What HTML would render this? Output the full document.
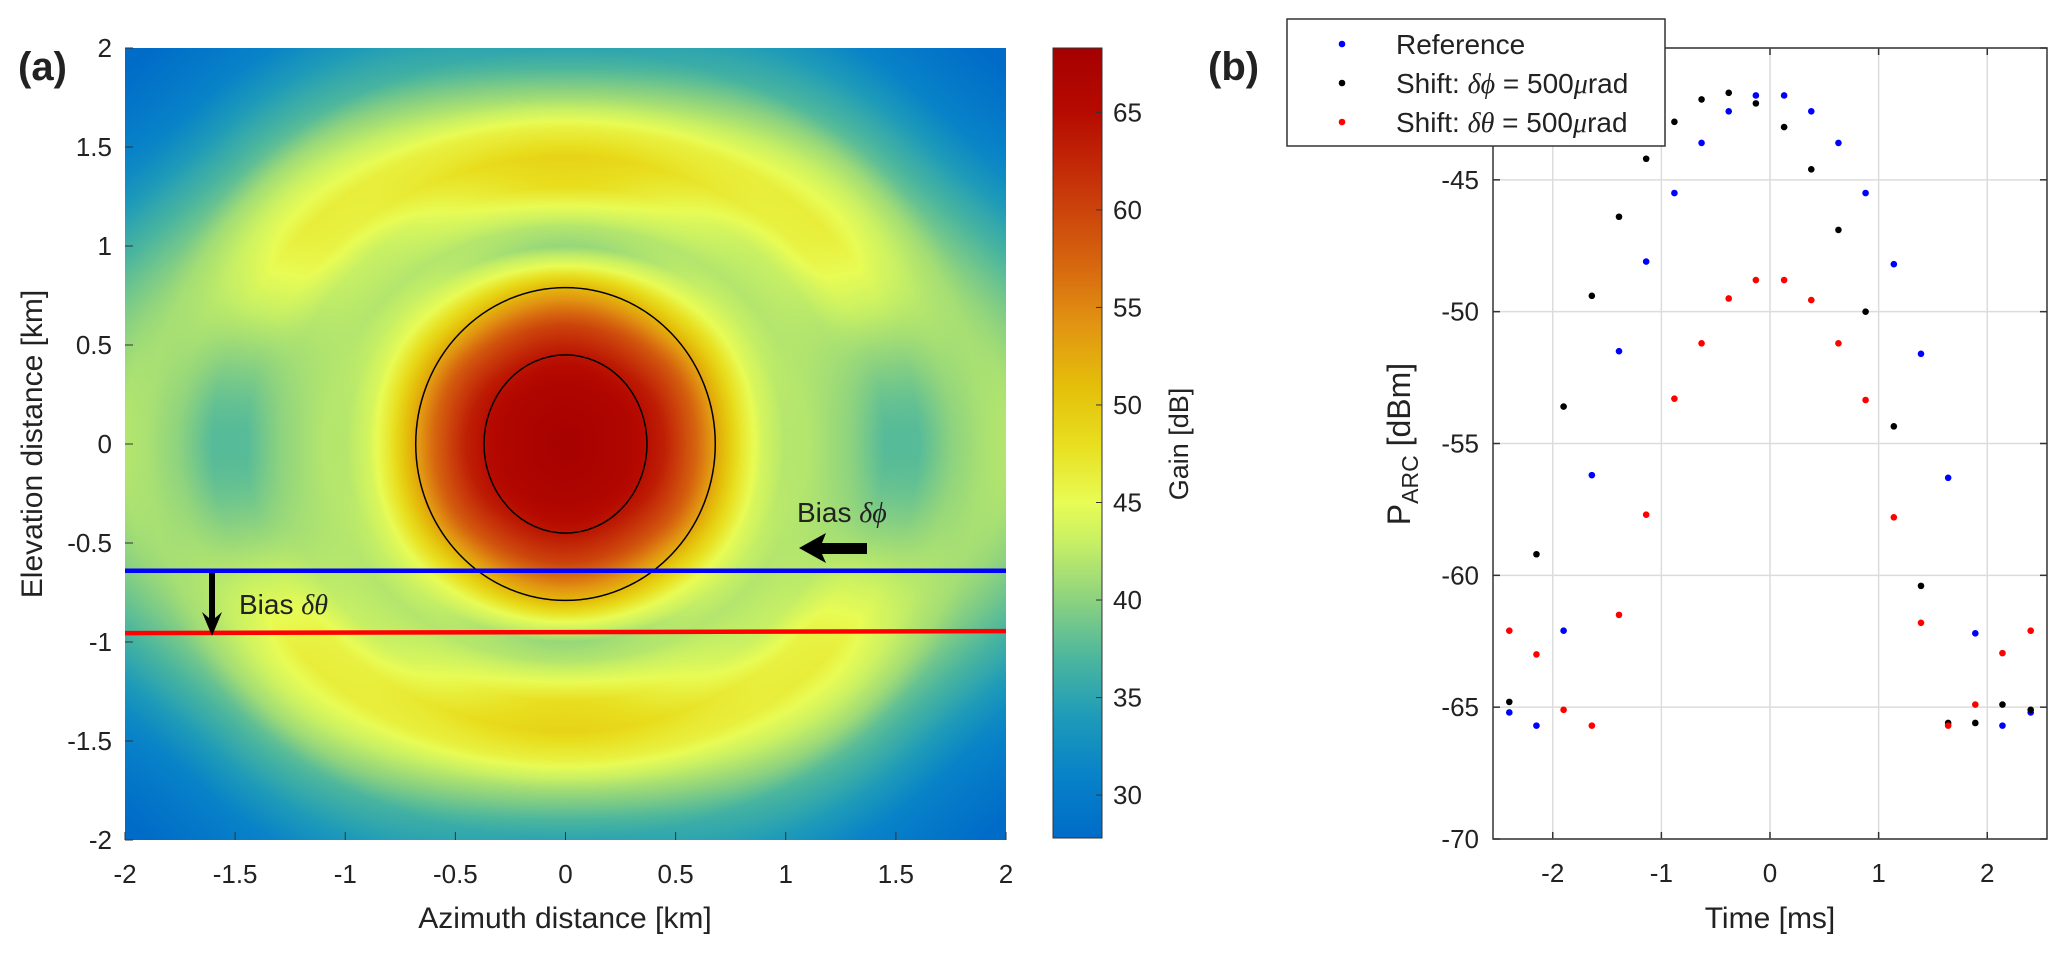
<!DOCTYPE html>
<html><head><meta charset="utf-8"><style>
html,body{margin:0;padding:0;background:#fff;width:2067px;height:955px;overflow:hidden}
#wrap{position:relative;width:2067px;height:955px}
canvas{position:absolute;left:125px;top:48px}
svg{position:absolute;left:0;top:0}
text{font-family:"Liberation Sans",Arial,sans-serif;fill:#222}
</style></head><body>
<div id="wrap">
<canvas id="heat" width="881" height="792"></canvas>
<svg id="svg" width="2067" height="955"></svg>
</div>
<script>
// ---------- Panel (a) data: gain profiles (km -> dB) ----------
const profileR = [0, 0.3, 0.45, 0.6, 0.8, 0.9, 1.0, 1.1, 1.3, 1.45, 1.6, 1.75, 1.9, 2.0, 2.4, 2.83];
const gainVertical = [68, 66.5, 64, 60, 51, 45, 40.5, 42, 48, 49, 46, 41, 37, 35, 32, 29];
const gainHorizontal = [68, 66, 63, 57, 47, 43.5, 42, 42, 40, 37.5, 37.5, 40, 41.5, 42, 39, 34];
const gainDiagonal = [68, 66.3, 63.5, 58.5, 49, 45, 43, 42, 43, 46, 46.5, 44, 41, 38, 31, 27];
const colorbarTicks = [30, 35, 40, 45, 50, 55, 60, 65];
const azTicks = [-2, -1.5, -1, -0.5, 0, 0.5, 1, 1.5, 2];
const elTicks = [-2, -1.5, -1, -0.5, 0, 0.5, 1, 1.5, 2];
const contourRx = [0.68, 0.37];
const contourRy = [0.79, 0.45];
const biasPhiElev = [-0.64, -0.64];
const biasThetaElev = [-0.955, -0.945];

// ---------- Panel (b) data ----------
const timeMs = [-2.40,-2.15,-1.90,-1.64,-1.39,-1.14,-0.88,-0.63,-0.38,-0.13,0.13,0.38,0.63,0.88,1.14,1.39,1.64,1.89,2.14,2.40];
const refPower = [-65.2,-65.7,-62.1,-56.2,-51.5,-48.1,-45.5,-43.6,-42.4,-41.8,-41.8,-42.4,-43.6,-45.5,-48.2,-51.6,-56.3,-62.2,-65.7,-65.2];
const phiPower = [-64.8,-59.2,-53.6,-49.4,-46.4,-44.2,-42.8,-41.95,-41.7,-42.1,-43.0,-44.6,-46.9,-50.0,-54.35,-60.4,-65.6,-65.6,-64.9,-65.1];
const thetaPower = [-62.1,-63.0,-65.1,-65.7,-61.5,-57.7,-53.3,-51.2,-49.5,-48.8,-48.8,-49.56,-51.2,-53.35,-57.8,-61.8,-65.7,-64.9,-62.95,-62.1];
const timeTicks = [-2, -1, 0, 1, 2];
const powerTicks = [-70, -65, -60, -55, -50, -45, -40];

const NS = "http://www.w3.org/2000/svg";
const svg = document.getElementById('svg');
function mk(tag, attrs, parent){const e=document.createElementNS(NS,tag);for(const k in attrs)e.setAttribute(k,attrs[k]);(parent||svg).appendChild(e);return e;}

const A = {x0:125, x1:1006, y0:48, y1:840};
const ax = v => A.x0 + (v + 2) / 4 * (A.x1 - A.x0);
const ay = v => A.y1 - (v + 2) / 4 * (A.y1 - A.y0);
const CB = {x0:1053, x1:1102, y0:48, y1:838, lo:27.8, hi:68.3};
const cy = v => CB.y1 - (v - CB.lo) / (CB.hi - CB.lo) * (CB.y1 - CB.y0);
const B = {x0:1493, x1:2047, y0:48, y1:839, tlo:-2.55, thi:2.55, plo:-70, phi:-40};
const bx = v => B.x0 + (v - B.tlo) / (B.thi - B.tlo) * (B.x1 - B.x0);
const by = v => B.y1 - (v - B.plo) / (B.phi - B.plo) * (B.y1 - B.y0);

const cmStops = [[27.8,[0,108,200]],[31,[8,130,200]],[34,[30,155,185]],[37,[75,182,158]],[40,[140,210,128]],[43,[200,240,100]],[45,[232,252,85]],[48,[232,222,30]],[51,[228,190,10]],[54,[226,150,18]],[57,[215,105,15]],[61,[200,55,10]],[65,[182,10,0]],[68.3,[165,0,0]]];
function cmap(v){
  if(v<=cmStops[0][0])return cmStops[0][1];
  for(let i=1;i<cmStops.length;i++){if(v<=cmStops[i][0]){const a=cmStops[i-1],b=cmStops[i];const t=(v-a[0])/(b[0]-a[0]);return [0,1,2].map(k=>a[1][k]+(b[1][k]-a[1][k])*t);}}
  return cmStops[cmStops.length-1][1];
}
function interp(arr, r){
  if(r>=profileR[profileR.length-1])return arr[arr.length-1];
  for(let i=1;i<profileR.length;i++){if(r<=profileR[i]){const t=(r-profileR[i-1])/(profileR[i]-profileR[i-1]);return arr[i-1]+(arr[i]-arr[i-1])*t;}}
}
function gainAt(x,y){
  const r=Math.hypot(x,y);const th=Math.atan2(Math.abs(y),Math.abs(x));
  const h=interp(gainHorizontal,r),d=interp(gainDiagonal,r),v=interp(gainVertical,r);
  if(th<=Math.PI/4){const t=th/(Math.PI/4);const s=t*t*(3-2*t);return h+(d-h)*s;}
  const t=(th-Math.PI/4)/(Math.PI/4);const s=t*t*(3-2*t);return d+(v-d)*s;
}
(function(){
  const c=document.getElementById('heat');const ctx=c.getContext('2d');
  const W=c.width,H=c.height;const img=ctx.createImageData(W,H);
  for(let j=0;j<H;j++){const y=2-4*(j+0.5)/H;
    for(let i=0;i<W;i++){const x=-2+4*(i+0.5)/W;const col=cmap(gainAt(x,y));const p=(j*W+i)*4;
      img.data[p]=col[0];img.data[p+1]=col[1];img.data[p+2]=col[2];img.data[p+3]=255;}}
  ctx.putImageData(img,0,0);
})();

const gA = mk('g',{});


contourRx.forEach((rx,i)=>{
  const e=mk('ellipse',{cx:ax(0),cy:ay(0),rx:ax(rx)-ax(0),ry:ay(0)-ay(contourRy[i]),fill:'none',stroke:'#000','stroke-width':1.5},gA);
  
  
});
let ln=mk('line',{x1:A.x0,x2:A.x1,y1:ay(biasPhiElev[0]),y2:ay(biasPhiElev[1]),stroke:'#0000ff','stroke-width':4.5},gA);


ln=mk('line',{x1:A.x0,x2:A.x1,y1:ay(biasThetaElev[0]),y2:ay(biasThetaElev[1]),stroke:'#ff0000','stroke-width':4.5},gA);


let ar=mk('path',{d:'M209 573 L209 618 L202 612 L212 636 L222 612 L215 618 L215 573 Z',fill:'#000'},gA);


ar=mk('path',{d:'M867 543 L822 543 L826 533 L799 548 L826 563 L822 554 L867 554 Z',fill:'#000'},gA);


let t=mk('text',{x:239,y:614,'font-size':28},gA);t.innerHTML='Bias <tspan font-family="Liberation Serif" font-style="italic">δθ</tspan>';


t=mk('text',{x:797,y:522,'font-size':28},gA);t.innerHTML='Bias <tspan font-family="Liberation Serif" font-style="italic">δϕ</tspan>';


azTicks.forEach(v=>{
  mk('line',{x1:ax(v),x2:ax(v),y1:A.y1,y2:A.y1-8,stroke:'#333','stroke-width':1},gA);
  const tt=mk('text',{x:ax(v),y:883,'font-size':26,'text-anchor':'middle'},gA);tt.textContent=v;
  
  
});
elTicks.forEach(v=>{
  mk('line',{x1:A.x0,x2:A.x0+8,y1:ay(v),y2:ay(v),stroke:'#333','stroke-width':1},gA);
  const tt=mk('text',{x:112,y:ay(v)+9,'font-size':26,'text-anchor':'end'},gA);tt.textContent=v;
  
  
});
t=mk('text',{x:565,y:928,'font-size':30,'text-anchor':'middle'},gA);t.textContent='Azimuth distance [km]';


t=mk('text',{x:0,y:0,'font-size':30,'text-anchor':'middle',transform:'translate(42,444) rotate(-90)'},gA);t.textContent='Elevation distance [km]';


t=mk('text',{x:18,y:80,'font-size':40,'font-weight':'bold'},gA);t.textContent='(a)';



const gC=mk('g',{});


const defs=mk('defs',{});const lg=mk('linearGradient',{id:'cbg',x1:0,y1:1,x2:0,y2:0},defs);
cmStops.forEach(s=>{mk('stop',{offset:(s[0]-CB.lo)/(CB.hi-CB.lo),'stop-color':'rgb('+s[1].map(Math.round).join(',')+')'},lg);});
mk('rect',{x:CB.x0,y:CB.y0,width:CB.x1-CB.x0,height:CB.y1-CB.y0,fill:'url(#cbg)',stroke:'#333','stroke-width':1},gC);
colorbarTicks.forEach(v=>{
  mk('line',{x1:CB.x1-6,x2:CB.x1,y1:cy(v),y2:cy(v),stroke:'#333'},gC);
  const tt=mk('text',{x:1113,y:cy(v)+9,'font-size':26},gC);tt.textContent=v;
  
  
});
t=mk('text',{x:0,y:0,'font-size':27,'text-anchor':'middle',transform:'translate(1188,444) rotate(-90)'},gC);t.textContent='Gain [dB]';



const gB=mk('g',{});


timeTicks.forEach(v=>{
  mk('line',{x1:bx(v),x2:bx(v),y1:B.y0,y2:B.y1,stroke:'#dcdcdc','stroke-width':1.5},gB);
  mk('line',{x1:bx(v),x2:bx(v),y1:B.y1,y2:B.y1-7,stroke:'#333','stroke-width':1.5},gB);
  mk('line',{x1:bx(v),x2:bx(v),y1:B.y0,y2:B.y0+7,stroke:'#333','stroke-width':1.5},gB);
  const tt=mk('text',{x:bx(v),y:882,'font-size':26,'text-anchor':'middle'},gB);tt.textContent=v;
  
  
});
powerTicks.forEach(v=>{
  mk('line',{x1:B.x0,x2:B.x1,y1:by(v),y2:by(v),stroke:'#dcdcdc','stroke-width':1.5},gB);
  mk('line',{x1:B.x0,x2:B.x0+7,y1:by(v),y2:by(v),stroke:'#333','stroke-width':1.5},gB);
  mk('line',{x1:B.x1,x2:B.x1-7,y1:by(v),y2:by(v),stroke:'#333','stroke-width':1.5},gB);
  const tt=mk('text',{x:1479,y:by(v)+9,'font-size':26,'text-anchor':'end'},gB);tt.textContent=v;
  
  
});
mk('rect',{x:B.x0,y:B.y0,width:B.x1-B.x0,height:B.y1-B.y0,fill:'none',stroke:'#333','stroke-width':1.5},gB);
function series(vals,color,name){
  const g=mk('g',{},gB);
  
  
  vals.forEach((v,i)=>{
    const c=mk('circle',{cx:bx(timeMs[i]),cy:by(v),r:3.3,fill:color},g);
    
    
  });
}
series(refPower,'#0000ff','reference-series');
series(phiPower,'#000000','shift-phi-series');
series(thetaPower,'#ff0000','shift-theta-series');
t=mk('text',{x:1770,y:928,'font-size':30,'text-anchor':'middle'},gB);t.textContent='Time [ms]';


t=mk('text',{x:0,y:0,'font-size':32,'text-anchor':'middle',transform:'translate(1410,444) rotate(-90)'},gB);
t.innerHTML='P<tspan font-size="23" dy="8">ARC</tspan><tspan dy="-8"> [dBm]</tspan>';


t=mk('text',{x:1208,y:80,'font-size':40,'font-weight':'bold'},gB);t.textContent='(b)';


const gL=mk('g',{},gB);


mk('rect',{x:1287,y:19,width:378,height:127,fill:'#fff',stroke:'#333','stroke-width':1.5},gL);
const legItems=[['#0000ff','Reference'],['#000000','Shift: <tspan font-family="Liberation Serif" font-style="italic">δϕ</tspan> = 500<tspan font-family="Liberation Serif" font-style="italic">μ</tspan>rad'],['#ff0000','Shift: <tspan font-family="Liberation Serif" font-style="italic">δθ</tspan> = 500<tspan font-family="Liberation Serif" font-style="italic">μ</tspan>rad']];
legItems.forEach((it,i)=>{
  const yy=44+i*39;
  const c=mk('circle',{cx:1342,cy:yy,r:3.3,fill:it[0]},gL);
  
  
  const tt=mk('text',{x:1396,y:yy+10,'font-size':28},gL);tt.innerHTML=it[1];
  
  
});
</script>
</body></html>
